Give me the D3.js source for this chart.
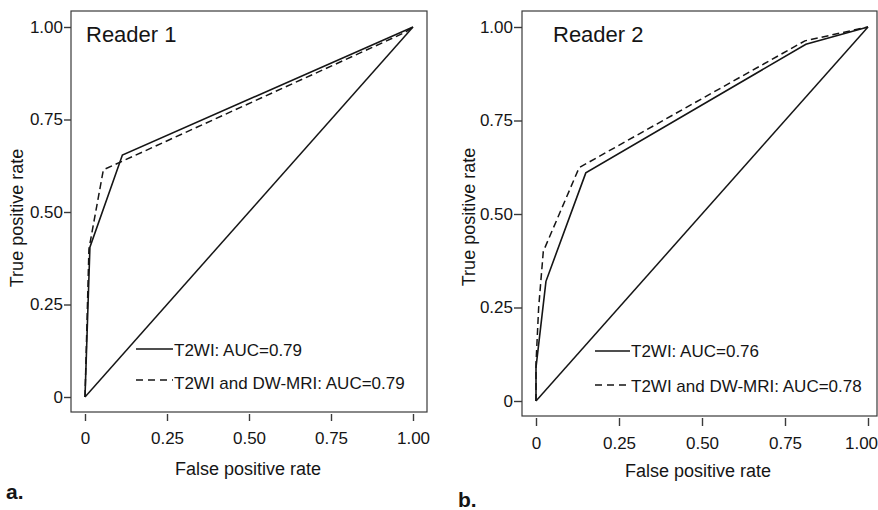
<!DOCTYPE html>
<html>
<head>
<meta charset="utf-8">
<script src="https://cdn.jsdelivr.net/npm/d3@7"></script>
<style>
  html, body { margin: 0; padding: 0; background: #fff; }
  svg { display: block; font-family: "Liberation Sans", Arial, Helvetica, sans-serif; }
</style>
</head>
<body>
<div id="chart"></div>
<script>
// values
const tickValues = [0, 0.25, 0.5, 0.75, 1];
const tickLabels = ["0", "0.25", "0.50", "0.75", "1.00"];
const chanceLine = [[0, 0], [1, 1]];

const reader1T2wi = [[0, 0], [0.015, 0.405], [0.114, 0.654], [1, 1]];
const reader1Combined = [[0, 0], [0.012, 0.40], [0.056, 0.614], [0.975, 0.985], [1, 1]];
const reader2T2wi = [[0, 0], [0, 0.09], [0.03, 0.32], [0.15, 0.61], [0.813, 0.954], [1, 1]];
const reader2Combined = [[0, 0], [0, 0.1], [0.008, 0.25], [0.022, 0.40], [0.13, 0.624], [0.81, 0.963], [1, 1]];

const readerNames = ["Reader 1", "Reader 2"];
const panelLetters = ["a.", "b."];
const legendT2wi = ["T2WI: AUC=0.79", "T2WI: AUC=0.76"];
const legendCombined = ["T2WI and DW-MRI: AUC=0.79", "T2WI and DW-MRI: AUC=0.78"];

const INK = "#151515";
const FRAME = "#3a3a3a";

// layout of each panel, in page pixels
const panels = [
  {
    frame: { x0: 71, y0: 11, x1: 427, y1: 412 },
    xRange: [85, 413], yRange: [397, 27],
    xAxisY: 414, yAxisX: 71, tick: 7, lastShift: 0,
    title: [86, 42], xTitle: [248, 475], yTitle: [17, 218],
    legendX: [136, 173], legendY: [349, 380], legendBase: [356, 389],
    letter: [6, 499],
    solid: reader1T2wi, dashed: reader1Combined
  },
  {
    frame: { x0: 522, y0: 11, x1: 877, y1: 416 },
    xRange: [536, 868], yRange: [401, 27],
    xAxisY: 418, yAxisX: 522, tick: 8, lastShift: -7,
    title: [553, 42], xTitle: [698, 477], yTitle: [469, 217],
    legendX: [595, 630], legendY: [351, 385], legendBase: [357, 392],
    letter: [458, 507],
    solid: reader2T2wi, dashed: reader2Combined
  }
];

const svg = d3.select("#chart").append("svg")
  .attr("width", 878).attr("height", 510)
  .attr("viewBox", [0, 0, 878, 510]);

panels.forEach((p, i) => {
  const x = d3.scaleLinear().domain([0, 1]).range(p.xRange);
  const y = d3.scaleLinear().domain([0, 1]).range(p.yRange);
  const g = svg.append("g");

  g.append("rect")
    .attr("x", p.frame.x0).attr("y", p.frame.y0)
    .attr("width", p.frame.x1 - p.frame.x0).attr("height", p.frame.y1 - p.frame.y0)
    .attr("fill", "none").attr("stroke", FRAME).attr("stroke-width", 1.2);

  g.append("g").attr("transform", `translate(0,${p.xAxisY})`)
    .call(d3.axisBottom(x).tickValues(tickValues).tickSize(p.tick).tickPadding(11)
      .tickFormat((d, k) => tickLabels[k]))
    .call(s => s.select(".domain").remove())
    .call(s => s.selectAll("line").attr("stroke", FRAME).attr("stroke-width", 1.4))
    .call(s => s.selectAll("text").attr("fill", INK).style("font-size", "17px")
      .style("font-family", "'Liberation Sans', Arial, sans-serif"))
    .call(s => s.selectAll("text").filter(d => d === 1).attr("dx", p.lastShift));

  g.append("g").attr("transform", `translate(${p.yAxisX},0)`)
    .call(d3.axisLeft(y).tickValues(tickValues).tickSize(p.tick).tickPadding(1)
      .tickFormat((d, k) => tickLabels[k]))
    .call(s => s.select(".domain").remove())
    .call(s => s.selectAll("line").attr("stroke", FRAME).attr("stroke-width", 1.4))
    .call(s => s.selectAll("text").attr("fill", INK).style("font-size", "17px")
      .style("font-family", "'Liberation Sans', Arial, sans-serif"));

  const line = d3.line().x(d => x(d[0])).y(d => y(d[1]));

  g.append("path").datum(chanceLine)
    .attr("fill", "none").attr("stroke", INK).attr("stroke-width", 1.5).attr("d", line);
  g.append("path").datum(p.dashed)
    .attr("fill", "none").attr("stroke", INK).attr("stroke-width", 1.5)
    .attr("stroke-dasharray", "7,4").attr("d", line);
  g.append("path").datum(p.solid)
    .attr("fill", "none").attr("stroke", INK).attr("stroke-width", 1.6).attr("d", line);

  g.append("text").attr("x", p.title[0]).attr("y", p.title[1])
    .attr("fill", INK).style("font-size", "22px").text(readerNames[i]);

  g.append("text").attr("x", p.xTitle[0]).attr("y", p.xTitle[1])
    .attr("text-anchor", "middle").attr("fill", INK).style("font-size", "18px")
    .text("False positive rate");

  g.append("text")
    .attr("transform", `translate(${p.yTitle[0]},${p.yTitle[1]}) rotate(-90)`)
    .attr("text-anchor", "middle").attr("dy", "0.35em")
    .attr("fill", INK).style("font-size", "18px")
    .text("True positive rate");

  // legend
  g.append("line")
    .attr("x1", p.legendX[0]).attr("x2", p.legendX[1])
    .attr("y1", p.legendY[0]).attr("y2", p.legendY[0])
    .attr("stroke", INK).attr("stroke-width", 1.5);
  g.append("line")
    .attr("x1", p.legendX[0]).attr("x2", p.legendX[1])
    .attr("y1", p.legendY[1]).attr("y2", p.legendY[1])
    .attr("stroke", INK).attr("stroke-width", 1.5).attr("stroke-dasharray", "7,5");
  g.append("text").attr("x", p.legendX[1] + 1).attr("y", p.legendBase[0])
    .attr("fill", INK).style("font-size", "17px").text(legendT2wi[i]);
  g.append("text").attr("x", p.legendX[1] + 1).attr("y", p.legendBase[1])
    .attr("fill", INK).style("font-size", "17px").text(legendCombined[i]);

  g.append("text").attr("x", p.letter[0]).attr("y", p.letter[1])
    .attr("fill", INK).style("font-size", "21px").style("font-weight", "bold")
    .style("font-family", "'Liberation Sans Narrow', 'Liberation Sans', Arial, sans-serif")
    .text(panelLetters[i]);
});
</script>
</body>
</html>
